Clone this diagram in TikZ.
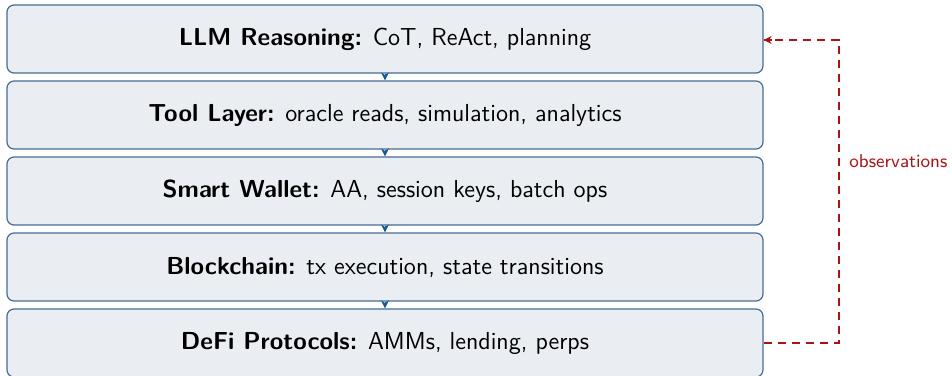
\documentclass[tikz,border=0pt]{standalone}
\usetikzlibrary{arrows.meta,positioning}
\definecolor{boxfill}{RGB}{234,238,243}
\definecolor{boxline}{RGB}{72,108,148}
\definecolor{arrowblue}{RGB}{20,90,150}
\definecolor{obsred}{RGB}{170,20,20}
\begin{document}
\begin{tikzpicture}[x=0.5pt,y=-0.5pt,
  layer/.style={draw=boxline, line width=0.6pt, fill=boxfill, rounded corners=3.5pt,
    minimum width=378pt, minimum height=34pt, inner sep=0pt,
    font=\sffamily\fontsize{12.3}{14}\selectfont, text=black},
  flow/.style={-{Stealth[length=4pt,width=4pt]}, draw=arrowblue, line width=0.5pt},
  obs/.style={draw=obsred, line width=0.9pt, dash pattern=on 4pt off 3pt},
  obslabel/.style={text=obsred, font=\sffamily\fontsize{9.3}{11}\selectfont, anchor=west, inner sep=0pt}
]
\useasboundingbox (0,0) rectangle (952,375);
\node[layer] (llm)   at (385,39)  {\textbf{LLM Reasoning:} CoT, ReAct, planning};
\node[layer] (tool)  at (385,115) {\textbf{Tool Layer:} oracle reads, simulation, analytics};
\node[layer] (wall)  at (385,191) {\textbf{Smart Wallet:} AA, session keys, batch ops};
\node[layer] (chain) at (385,267) {\textbf{Blockchain:} tx execution, state transitions};
\node[layer] (defi)  at (385,343) {\textbf{DeFi Protocols:} AMMs, lending, perps};
\draw[flow] (llm) -- (tool);
\draw[flow] (tool) -- (wall);
\draw[flow] (wall) -- (chain);
\draw[flow] (chain) -- (defi);
\coordinate (c1) at (839,343);
\coordinate (c2) at (839,40);
\draw[obs] (defi.east) -- (c1) -- (c2) -- (llm.east |- c2);
\draw[obsred, line width=0.9pt, -{Stealth[length=4pt,width=4pt]}] (llm.east |- c2) ++(8,0) -- (llm.east |- c2);
\node[obslabel] (obsl) at (849,161) {observations};
\end{tikzpicture}
\end{document}
